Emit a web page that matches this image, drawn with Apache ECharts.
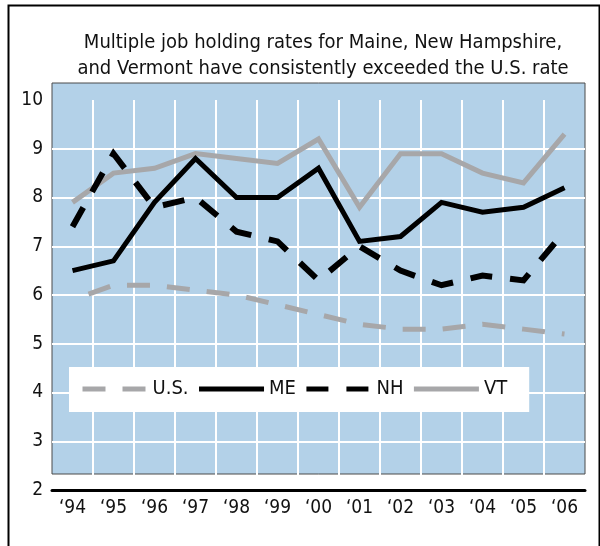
<!DOCTYPE html>
<html>
<head>
<meta charset="utf-8">
<title>Multiple job holding rates</title>
<script src="https://cdn.jsdelivr.net/npm/echarts@6/dist/echarts.min.js"></script>
<style>
    html, body { margin: 0; padding: 0; background: #fff; }
    #chart { width: 600px; height: 546px; }
</style>
</head>
<body>
<div id="chart"></div>
<script>
    // data
    var years = ['\u201894', '\u201895', '\u201896', '\u201897', '\u201898', '\u201899', '\u201800',
                 '\u201801', '\u201802', '\u201803', '\u201804', '\u201805', '\u201806'];
    var usRate = [5.9, 6.2, 6.2, 6.1, 6.0, 5.8, 5.6, 5.4, 5.3, 5.3, 5.4, 5.3, 5.2];
    var meRate = [6.5, 6.7, 7.9, 8.8, 8.0, 8.0, 8.6, 7.1, 7.2, 7.9, 7.7, 7.8, 8.2];
    var nhRate = [7.4, 8.9, 7.8, 8.0, 7.3, 7.1, 6.3, 7.0, 6.5, 6.2, 6.4, 6.3, 7.3];
    var vtRate = [7.9, 8.5, 8.6, 8.9, 8.8, 8.7, 9.2, 7.8, 8.9, 8.9, 8.5, 8.3, 9.3];
    var yTicks = [2, 3, 4, 5, 6, 7, 8, 9, 10];

    var FONT = '"Liberation Sans Narrow", "DejaVu Sans Condensed", "Roboto", sans-serif';
    var BLUE = '#b3d1e8';
    var GREY = '#a7a7a9';

    // white grid lines, none on the edges of the box
    var xLineColors = [];
    for (var i = 0; i <= years.length; i++) {
        xLineColors.push(i === 0 || i === years.length ? 'rgba(0,0,0,0)' : '#fff');
    }
    var yLineColors = yTicks.map(function (v, i) {
        return (i === 0 || i === yTicks.length - 1) ? 'rgba(0,0,0,0)' : '#fff';
    });

    var myChart = echarts.init(document.getElementById('chart'), null, { renderer: 'canvas' });

    var option = {
        animation: false,
        backgroundColor: '#fff',
        textStyle: { fontFamily: FONT },
        title: {
            text: 'Multiple job holding rates for Maine, New Hampshire,\nand Vermont have consistently exceeded the U.S. rate',
            left: 318,
            top: 25,
            textAlign: 'center',
            textStyle: {
                fontFamily: FONT,
                fontSize: 20,
                fontWeight: 'normal',
                color: '#111',
                lineHeight: 26
            }
        },
        graphic: [{
            type: 'rect',
            left: 6,
            top: 3,
            shape: { width: 591, height: 600 },
            style: { fill: 'none', stroke: '#000', lineWidth: 2 },
            silent: true,
            z: -10
        }],
        grid: [
            // plot grid
            { left: 52, right: 15, top: 100, bottom: 56, show: false },
            // blue box behind it
            { left: 52, right: 15, top: 83, bottom: 72, show: true, z: -1,
              backgroundColor: BLUE, borderColor: '#4a4a4a', borderWidth: 1 }
        ],
        legend: {
            left: 69,
            top: 367,
            backgroundColor: '#fff',
            padding: [12, 22, 13, 11],
            itemWidth: 65,
            itemHeight: 14,
            itemGap: 8,
            lineStyle: { width: 5 },
            itemStyle: { opacity: 0 },
            textStyle: { fontFamily: FONT, fontSize: 20, color: '#111' },
            data: [{ name: 'U.S.', lineStyle: { dashOffset: 0 } }, 'ME', 'NH', 'VT']
        },
        xAxis: [{
            type: 'category',
            gridIndex: 0,
            data: years,
            boundaryGap: true,
            axisLine: { show: true, lineStyle: { color: '#000', width: 3 } },
            axisTick: { show: false },
            axisLabel: { fontFamily: FONT, fontSize: 19, color: '#111', margin: 9 },
            splitLine: { show: true, lineStyle: { color: xLineColors, width: 2 } }
        }, {
            type: 'category', gridIndex: 1, data: years, show: false
        }],
        yAxis: [{
            type: 'value',
            gridIndex: 0,
            min: 2,
            max: 10,
            interval: 1,
            axisLine: { show: false },
            axisTick: { show: false },
            axisLabel: { fontFamily: FONT, fontSize: 19, color: '#111', margin: 9 },
            splitLine: { show: true, lineStyle: { color: yLineColors, width: 2 } }
        }, {
            type: 'value', gridIndex: 1, min: 2, max: 10, show: false
        }],
        series: [{
            name: 'VT',
            type: 'line',
            data: vtRate,
            symbol: 'none',
            itemStyle: { color: GREY, opacity: 0 },
            lineStyle: { color: GREY, width: 5, join: 'miter', cap: 'butt' }
        }, {
            name: 'U.S.',
            type: 'line',
            data: usRate,
            symbol: 'none',
            itemStyle: { color: GREY, opacity: 0 },
            lineStyle: { color: GREY, width: 5, type: [23, 17], dashOffset: 23, join: 'miter', cap: 'butt' }
        }, {
            name: 'NH',
            type: 'line',
            data: nhRate,
            symbol: 'none',
            itemStyle: { color: '#000', opacity: 0 },
            lineStyle: { color: '#000', width: 6, type: [22, 18], join: 'miter', cap: 'butt' }
        }, {
            name: 'ME',
            type: 'line',
            data: meRate,
            symbol: 'none',
            itemStyle: { color: '#000', opacity: 0 },
            lineStyle: { color: '#000', width: 5, join: 'miter', cap: 'butt' }
        }]
    };

    myChart.setOption(option);
</script>
</body>
</html>
